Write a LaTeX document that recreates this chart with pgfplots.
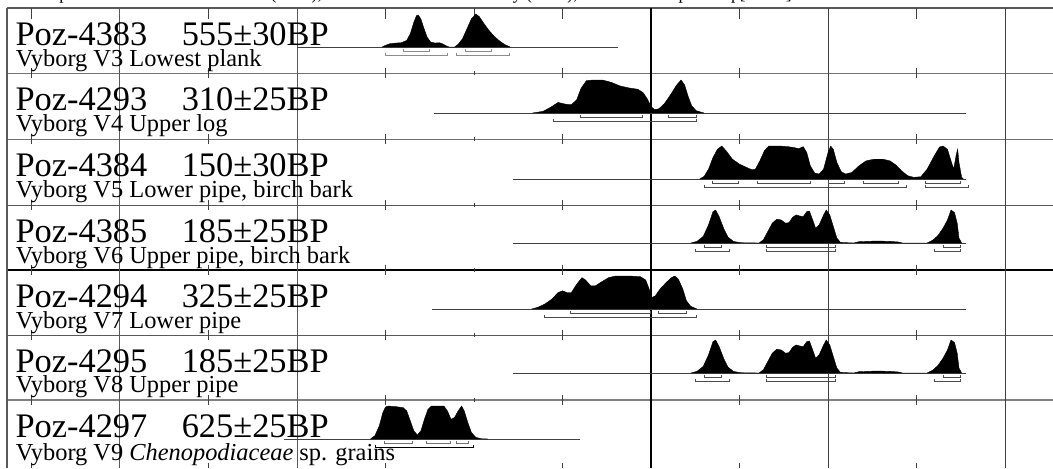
\documentclass[border=0pt]{standalone}
\usepackage{fontspec}
\setmainfont{Liberation Serif}
\usepackage{pgfplots}
\pgfplotsset{compat=1.18}
\pgfplotsset{
  dist/.style={fill=black, draw=black, line width=0.2pt, y filter/.expression={#1-33*y}},
  brk/.style={black!70, line width=0.5pt},
  base/.style={black!75, line width=0.5pt},
}
\tikzset{
  ttl/.style={anchor=base west, inner sep=0, font=\fontsize{17.2}{17.2}\selectfont},
  sub/.style={anchor=base west, inner sep=0, font=\fontsize{12.2}{12.2}\selectfont},
}
\begin{document}
\begin{tikzpicture}
\begin{axis}[
  scale only axis, width=526.5pt, height=234pt,
  xmin=864.41, xmax=2054.24, ymin=0, ymax=468, y dir=reverse,
  hide axis, clip=true,
]
% frame: row lines
\draw[black!65, line width=0.6pt] (872.3,8) -- (2054.24,8);
\draw[black!55, line width=0.5pt] (872.3,73) -- (2054.24,73);
\draw[black!55, line width=0.5pt] (872.3,139) -- (2054.24,139);
\draw[black!65, line width=0.5pt] (872.3,205) -- (2054.24,205);
\draw[black, line width=0.9pt] (872.3,270) -- (2054.24,270);
\draw[black!65, line width=0.5pt] (872.3,335) -- (2054.24,335);
\draw[black!50, line width=0.6pt] (872.3,400) -- (2054.24,400);
\draw[black!65, line width=0.6pt] (872.3,8) -- (872.3,468);
% vertical grid lines
\draw[black!65, line width=0.5pt] (1000,8) -- (1000,468);
\draw[black!65, line width=0.5pt] (1200,8) -- (1200,468);
\draw[black, line width=0.9pt] (1600,8) -- (1600,468);
\draw[black!75, line width=0.5pt] (1800,8) -- (1800,468);
\draw[black!75, line width=0.5pt] (2000,8) -- (2000,468);
% ticks on the row lines
\draw[black!75, line width=0.5pt] (900,8)--(900,19) (1100,8)--(1100,19) (1300,8)--(1300,19) (1500,8)--(1500,19) (1700,8)--(1700,19) (1900,8)--(1900,19) (1400,8)--(1400,19);
\draw[black!75, line width=0.5pt] (900,68)--(900,78) (1100,68)--(1100,78) (1300,68)--(1300,78) (1500,68)--(1500,78) (1700,68)--(1700,78) (1900,68)--(1900,78) (1400,71)--(1400,75);
\draw[black!75, line width=0.5pt] (900,134)--(900,144) (1100,134)--(1100,144) (1300,134)--(1300,144) (1500,134)--(1500,144) (1700,134)--(1700,144) (1900,134)--(1900,144) (1400,137)--(1400,141);
\draw[black!75, line width=0.5pt] (900,200)--(900,210) (1100,200)--(1100,210) (1300,200)--(1300,210) (1500,200)--(1500,210) (1700,200)--(1700,210) (1900,200)--(1900,210) (1400,203)--(1400,207);
\draw[black!75, line width=0.5pt] (900,265)--(900,275) (1100,265)--(1100,275) (1300,265)--(1300,275) (1500,265)--(1500,275) (1700,265)--(1700,275) (1900,265)--(1900,275) (1400,268)--(1400,272);
\draw[black!75, line width=0.5pt] (900,330)--(900,340) (1100,330)--(1100,340) (1300,330)--(1300,340) (1500,330)--(1500,340) (1700,330)--(1700,340) (1900,330)--(1900,340) (1400,333)--(1400,337);
\draw[black!75, line width=0.5pt] (900,395)--(900,405) (1100,395)--(1100,405) (1300,395)--(1300,405) (1500,395)--(1500,405) (1700,395)--(1700,405) (1900,395)--(1900,405) (1400,398)--(1400,402);
\draw[black!75, line width=0.5pt] (900,463)--(900,468) (1100,463)--(1100,468) (1300,463)--(1300,468) (1500,463)--(1500,468) (1700,463)--(1700,468) (1900,463)--(1900,468);

% header line, cut off by the top edge
\node[anchor=base west, inner sep=0, font=\fontsize{8.8}{8.8}\selectfont] at (878,-0.4) {Atmospheric data from Reimer et al (2004);OxCal v3.10 Bronk Ramsey (2005); cub r:5 sd:12 prob usp[chron]};

% labels
\node[ttl] at (881.5,45) {Poz-4383\hspace{1em}555±30BP};
\node[sub] at (882,66) {Vyborg V3 Lowest plank};
\node[ttl] at (881.5,110) {Poz-4293\hspace{1em}310±25BP};
\node[sub] at (882,131) {Vyborg V4 Upper log};
\node[ttl] at (881.5,176) {Poz-4384\hspace{1em}150±30BP};
\node[sub] at (882,197) {Vyborg V5 Lower pipe, birch bark};
\node[ttl] at (881.5,242) {Poz-4385\hspace{1em}185±25BP};
\node[sub] at (882,263) {Vyborg V6 Upper pipe, birch bark};
\node[ttl] at (881.5,307) {Poz-4294\hspace{1em}325±25BP};
\node[sub] at (882,328) {Vyborg V7 Lower pipe};
\node[ttl] at (881.5,372) {Poz-4295\hspace{1em}185±25BP};
\node[sub] at (882,392) {Vyborg V8 Upper pipe};
\node[ttl] at (881.5,437) {Poz-4297\hspace{1em}625±25BP};
\node[sub] at (882,460) {Vyborg V9 \textit{Chenopodiaceae} sp. grains};

% baselines of the calibrated ranges
\addplot[base] coordinates {(1200,47) (1563,47)};
\addplot[base] coordinates {(1355,113) (1956,113)};
\addplot[base] coordinates {(1444,179) (1956,179)};
\addplot[base] coordinates {(1444,243) (1956,243)};
\addplot[base] coordinates {(1352,309) (1956,309)};
\addplot[base] coordinates {(1444,373) (1956,373)};
\addplot[base] coordinates {(1185,439) (1520,439)};

% Poz-4383 555+-30BP
\addplot[dist=47] coordinates {
(1296,0)(1300,0.05)(1305,0.1)(1312,0.12)(1318,0.13)(1324,0.2)(1328,0.4)(1332,0.75)(1335,0.95)(1337,0.97)(1340,0.85)(1343,0.6)(1347,0.3)(1351,0.15)(1356,0.12)(1361,0.13)(1365,0.09)(1369,0.03)(1372,0)
(1378,0)(1382,0.08)(1387,0.25)(1392,0.55)(1397,0.85)(1402,1.0)(1406,0.92)(1411,0.72)(1417,0.5)(1423,0.32)(1429,0.18)(1435,0.07)(1441,0)};
% Poz-4293 310+-25BP
\addplot[dist=113] coordinates {
(1466,0)(1478,0.05)(1487,0.18)(1495,0.32)(1503,0.27)(1510,0.25)(1516,0.4)(1521,0.75)(1527,0.98)(1535,1.0)(1545,1.0)(1555,0.93)(1565,0.82)(1575,0.76)(1585,0.72)(1591,0.62)(1596,0.42)(1600,0.2)(1604,0.1)(1609,0.13)(1615,0.28)(1622,0.55)(1629,0.85)(1634,1.0)(1638,0.85)(1642,0.5)(1646,0.22)(1651,0.07)(1660,0)};
% Poz-4384 150+-30BP
\addplot[dist=179] coordinates {
(1655,0)(1660,0.08)(1665,0.3)(1670,0.65)(1675,0.9)(1680,1.0)(1685,0.85)(1692,0.6)(1700,0.45)(1708,0.35)(1714,0.28)(1718,0.3)(1723,0.55)(1728,0.85)(1733,1.0)(1745,1.0)(1755,0.98)(1762,0.95)(1767,0.92)(1772,0.98)(1776,0.8)(1780,0.4)(1785,0.18)(1790,0.15)(1795,0.3)(1800,0.8)(1803,1.0)(1806,0.9)(1810,0.5)(1815,0.22)(1820,0.15)(1827,0.2)(1835,0.4)(1843,0.55)(1852,0.6)(1862,0.6)(1870,0.55)(1877,0.42)(1883,0.25)(1890,0.1)(1897,0.05)(1905,0.07)(1912,0.3)(1920,0.7)(1926,0.97)(1930,1.0)(1935,0.9)(1939,0.55)(1942,0.3)(1945,0.75)(1946.5,0.9)(1948,0.5)(1951,0.05)(1953,0)};
% Poz-4385 185+-25BP
\addplot[dist=243] coordinates {
(1645,0)(1652,0.05)(1659,0.2)(1665,0.55)(1670,0.95)(1673,1.0)(1677,0.8)(1682,0.45)(1687,0.18)(1693,0.05)(1701,0.01)(1722,0)(1727,0.1)(1732,0.35)(1737,0.6)(1742,0.72)(1747,0.7)(1752,0.6)(1756,0.62)(1760,0.78)(1764,0.85)(1768,0.82)(1772,0.8)(1776,0.95)(1779,0.97)(1782,0.75)(1786,0.45)(1790,0.55)(1795,0.85)(1798,1.0)(1802,0.85)(1806,0.5)(1810,0.15)(1814,0.02)(1829,0)(1835,0.04)(1855,0.06)(1870,0.05)(1880,0.03)(1884,0)(1912,0)(1918,0.08)(1924,0.22)(1930,0.45)(1935,0.7)(1939,1.0)(1943,0.92)(1946,0.6)(1948,0.15)(1951,0)};
% Poz-4294 325+-25BP
\addplot[dist=309] coordinates {
(1465,0)(1472,0.05)(1480,0.15)(1488,0.3)(1495,0.5)(1500,0.55)(1505,0.5)(1510,0.5)(1516,0.75)(1522,0.95)(1526,0.88)(1532,0.7)(1537,0.7)(1544,0.82)(1552,0.95)(1560,1.0)(1575,1.0)(1588,0.98)(1594,0.88)(1598,0.6)(1601,0.35)(1605,0.4)(1610,0.6)(1617,0.8)(1623,0.95)(1627,1.0)(1631,0.9)(1636,0.6)(1640,0.25)(1645,0.08)(1652,0)};
% Poz-4295 185+-25BP
\addplot[dist=373] coordinates {
(1645,0)(1652,0.05)(1659,0.2)(1665,0.55)(1670,0.95)(1673,1.0)(1677,0.8)(1682,0.45)(1687,0.18)(1693,0.05)(1701,0.01)(1722,0)(1727,0.1)(1732,0.35)(1737,0.6)(1742,0.72)(1747,0.7)(1752,0.6)(1756,0.62)(1760,0.78)(1764,0.85)(1768,0.82)(1772,0.8)(1776,0.95)(1779,0.97)(1782,0.75)(1786,0.45)(1790,0.55)(1795,0.85)(1798,1.0)(1802,0.85)(1806,0.5)(1810,0.15)(1814,0.02)(1829,0)(1835,0.04)(1855,0.06)(1870,0.05)(1880,0.03)(1884,0)(1912,0)(1918,0.08)(1924,0.22)(1930,0.45)(1935,0.7)(1939,1.0)(1943,0.92)(1946,0.6)(1948,0.15)(1951,0)};
% Poz-4297 625+-25BP
\addplot[dist=439] coordinates {
(1283,0)(1288,0.1)(1293,0.4)(1297,0.8)(1300,0.97)(1303,1.0)(1312,0.98)(1320,0.95)(1324,0.85)(1328,0.55)(1332,0.25)(1336,0.12)(1340,0.25)(1344,0.6)(1348,0.9)(1352,1.0)(1366,1.0)(1370,0.85)(1374,0.6)(1378,0.65)(1382,0.85)(1386,1.0)(1389,0.85)(1393,0.5)(1397,0.2)(1402,0.05)(1408,0.01)(1416,0)};

% 68.2% and 95.4% ranges
\addplot[brk, black!45] coordinates {(1320,48.5)(1320,51)(1350,51)(1350,48.5)};
\addplot[brk, black!45] coordinates {(1390,48.5)(1390,51)(1420,51)(1420,48.5)};
\addplot[brk, black!45] coordinates {(1300,52.5)(1300,55)(1370,55)(1370,52.5)};
\addplot[brk, black!45] coordinates {(1380,52.5)(1380,55)(1440,55)(1440,52.5)};

\addplot[brk] coordinates {(1520,114.5)(1520,117)(1590,117)(1590,114.5)};
\addplot[brk] coordinates {(1620,114.5)(1620,117)(1651,117)(1651,114.5)};
\addplot[brk] coordinates {(1490,118.5)(1490,121)(1651,121)(1651,118.5)};

\addplot[brk] coordinates {(1670,180.5)(1670,183)(1699,183)(1699,180.5)};
\addplot[brk] coordinates {(1720,180.5)(1720,183)(1780,183)(1780,180.5)};
\addplot[brk] coordinates {(1800,180.5)(1800,183)(1819,183)(1819,180.5)};
\addplot[brk] coordinates {(1840,180.5)(1840,183)(1880,183)(1880,180.5)};
\addplot[brk] coordinates {(1910,180.5)(1910,183)(1950,183)(1950,180.5)};
\addplot[brk] coordinates {(1660,184.5)(1660,187)(1889,187)(1889,184.5)};
\addplot[brk] coordinates {(1910,184.5)(1910,187)(1959,187)(1959,184.5)};

\addplot[brk] coordinates {(1660,244.5)(1660,247)(1680,247)(1680,244.5)};
\addplot[brk] coordinates {(1730,244.5)(1730,247)(1809,247)(1809,244.5)};
\addplot[brk] coordinates {(1930,244.5)(1930,247)(1950,247)(1950,244.5)};
\addplot[brk] coordinates {(1650,248.5)(1650,251)(1689,251)(1689,248.5)};
\addplot[brk] coordinates {(1730,248.5)(1730,251)(1809,251)(1809,248.5)};
\addplot[brk] coordinates {(1920,248.5)(1920,251)(1950,251)(1950,248.5)};

\addplot[brk] coordinates {(1509,310.5)(1509,313)(1599,313)(1599,310.5)};
\addplot[brk] coordinates {(1609,310.5)(1609,313)(1640,313)(1640,310.5)};
\addplot[brk] coordinates {(1480,314.5)(1480,317)(1651,317)(1651,314.5)};

\addplot[brk] coordinates {(1660,374.5)(1660,377)(1680,377)(1680,374.5)};
\addplot[brk] coordinates {(1730,374.5)(1730,377)(1809,377)(1809,374.5)};
\addplot[brk] coordinates {(1930,374.5)(1930,377)(1950,377)(1950,374.5)};
\addplot[brk] coordinates {(1650,378.5)(1650,381)(1689,381)(1689,378.5)};
\addplot[brk] coordinates {(1730,378.5)(1730,381)(1809,381)(1809,378.5)};
\addplot[brk] coordinates {(1920,378.5)(1920,381)(1950,381)(1950,378.5)};

\addplot[brk, black!55] coordinates {(1299,440.5)(1299,443)(1330,443)(1330,440.5)};
\addplot[brk, black!55] coordinates {(1346,440.5)(1346,443)(1374,443)(1374,440.5)};
\addplot[brk, black!55] coordinates {(1380,440.5)(1380,443)(1394,443)(1394,440.5)};
\addplot[brk, black] coordinates {(1289,444.5)(1289,447)(1399,447)(1399,444.5)};
\end{axis}
\pgfresetboundingbox
\path (current axis.south west) rectangle (current axis.north east);
\end{tikzpicture}
\end{document}
